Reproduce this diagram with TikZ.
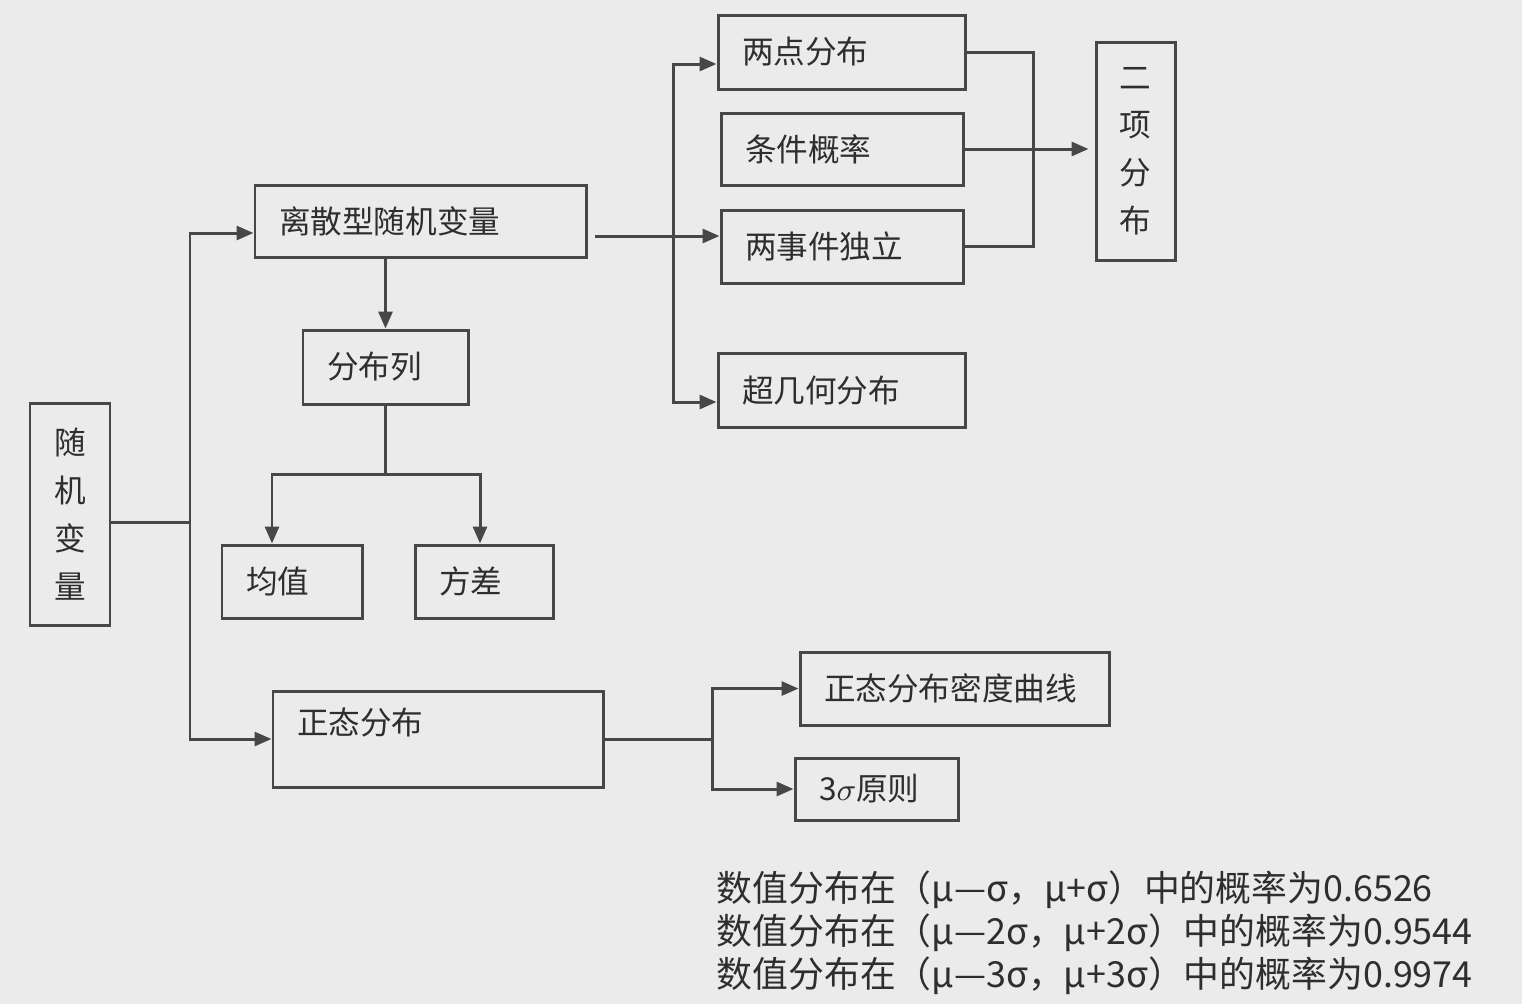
\documentclass[tikz,border=0pt]{standalone}
\usepackage{fontspec}
\setmainfont{Noto Sans CJK SC}
\usetikzlibrary{arrows.meta}
\definecolor{bgcol}{HTML}{EBEBEB}
\definecolor{linecol}{HTML}{474747}
\definecolor{txtcol}{HTML}{2E2E2E}
\begin{document}
\begin{tikzpicture}[
    >={Triangle[length=0.17cm,width=0.14cm]},
    conn/.style={draw=linecol,line width=0.85pt},
    box/.style={draw=linecol,line width=0.85pt,text=txtcol,align=left,inner xsep=0.24cm,
      font=\fontsize{9}{11}\selectfont},
    vbox/.style={draw=linecol,line width=0.85pt,text=txtcol,align=center,
      font=\fontsize{9}{13.6}\selectfont}
  ]
   \fill[bgcol] (0,0) rectangle (15.22,-10.04);
   \useasboundingbox (0,0) rectangle (15.22,-10.04);
   % left column
   \node[vbox,minimum width=0.80cm,minimum height=2.22cm] (rv) at (0.70,-5.14) {随\\机\\变\\量};
   \node[box,minimum height=0.72cm,text width=2.83cm] (disc) at (4.205,-2.21) {离散型随机变量};
   \node[box,minimum height=0.74cm,text width=1.17cm] (dist) at (3.855,-3.67) {分布列};
   \node[box,minimum height=0.73cm,text width=0.92cm] (mean) at (2.92,-5.815) {均值};
   \node[box,minimum height=0.73cm,text width=0.90cm] (var) at (4.84,-5.815) {方差};
   \node[box,minimum height=0.96cm,text depth=0.36cm,text width=2.82cm] (normal) at (4.38,-7.39) {正态分布};
   % right column
   \node[box,minimum height=0.74cm,text width=1.99cm] (twopt) at (8.415,-0.52) {两点分布};
   \node[box,minimum height=0.72cm,text width=1.94cm] (cond) at (8.42,-1.49) {条件概率};
   \node[box,minimum height=0.73cm,text width=1.94cm] (indep) at (8.42,-2.465) {两事件独立};
   \node[box,minimum height=0.74cm,text width=1.99cm] (hyper) at (8.415,-3.90) {超几何分布};
   \node[vbox,minimum width=0.79cm,minimum height=2.18cm] (binom) at (11.355,-1.51) {二\\项\\分\\布};
   \node[box,minimum height=0.73cm,text width=2.61cm] (density) at (9.545,-6.885) {正态分布密度曲线};
   \node[box,minimum height=0.62cm,text width=1.15cm] (three) at (8.765,-7.89) {3$\sigma$原则};
   % notes
   \node[anchor=north west,align=left,inner sep=0pt,text=txtcol,font=\fontsize{10.2}{12.3}\selectfont] (probs) at (7.16,-8.70)
     {数值分布在（μ—σ，μ+σ）中的概率为0.6526\\
      数值分布在（μ—2σ，μ+2σ）中的概率为0.9544\\
      数值分布在（μ—3σ，μ+3σ）中的概率为0.9974};
   % connectors
   \coordinate (trunk) at (1.90,-5.22);
   \draw[conn] (rv.east |- trunk) -- (trunk);
   \draw[conn,->] (trunk) |- ([yshift=-0.12cm]disc.west);
   \draw[conn,->] (trunk) |- (normal.west);
   \draw[conn,->] (disc.south -| dist.north) -- (dist.north);
   \coordinate (fork) at (3.855,-4.74);
   \draw[conn] (dist.south) -- (fork);
   \draw[conn,->] (fork) -| ([xshift=-0.20cm]mean.north);
   \draw[conn,->] (fork) -| ([xshift=-0.04cm]var.north);
   \coordinate (hub) at (6.73,-2.36);
   \draw[conn,->] ([xshift=0.07cm,yshift=-0.15cm]disc.east) -- (hub -| indep.west);
   \draw[conn,->] (hub) |- ([yshift=-0.12cm]twopt.west);
   \draw[conn,->] (hub) |- ([yshift=-0.12cm]hyper.west);
   \coordinate (merge) at (10.33,-1.49);
   \draw[conn] (twopt.east) -| (merge) |- (indep.east);
   \draw[conn,->] (cond.east) -- ([xshift=-0.06cm]cond.east -| binom.west);
   \coordinate (split) at (7.12,-7.39);
   \draw[conn] (normal.east) -- (split);
   \draw[conn,->] (split) |- (density.west);
   \draw[conn,->] (split) |- (three.west);
\end{tikzpicture}
\end{document}
